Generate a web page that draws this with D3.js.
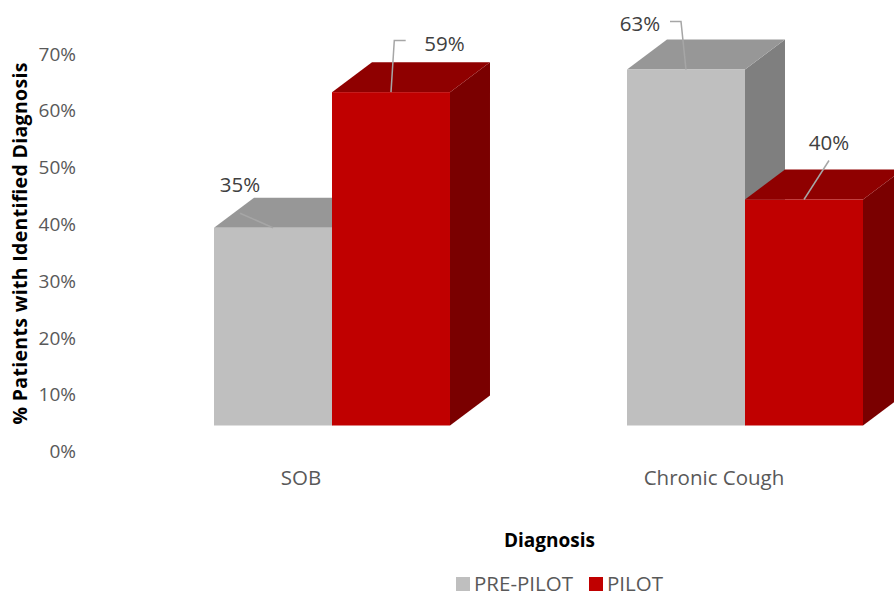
<!DOCTYPE html>
<html>
<head>
<meta charset="utf-8">
<script src="https://cdn.jsdelivr.net/npm/d3@7"></script>
<style>
  html, body { margin: 0; padding: 0; background: #fff; }
  svg { display: block; font-family: "Open Sans", sans-serif; }
</style>
</head>
<body>
<svg id="chart" width="894" height="592"></svg>
<script>
// Chart data
const categories = ["SOB", "Chronic Cough"];
const seriesNames = ["PRE-PILOT", "PILOT"];
const prePilot = [0.35, 0.63];
const pilot = [0.59, 0.40];
const yTicks = [0, 0.1, 0.2, 0.3, 0.4, 0.5, 0.6, 0.7];

const seriesValues = [prePilot, pilot];

// Face shading for each series: front, top, side
const palette = {
  "PRE-PILOT": { front: "#bfbfbf", top: "#979797", side: "#7f7f7f" },
  "PILOT":     { front: "#c00000", top: "#8f0000", side: "#7a0000" }
};

// Depth of the 3D extrusion (towards upper right)
const depth = { dx: 40, dy: -30 };

// Hand-placed data label offsets from the top-centre of each bar's front face
// [series][category] -> text position and leader-line points
const labelLayout = [
  [ { tx: -33, ty: -43.5, pts: [[-33, -14.5]] },
    { tx: -46, ty: -46,   pts: [[-5, -48], [-16, -48]] } ],
  [ { tx: 53.5, ty: -49,  pts: [[3.3, -51.7], [14.7, -51.7]] },
    { tx: 25, ty: -57,    pts: [[25, -39]] } ]
];

const svg = d3.select("#chart");

// Scales
const x = d3.scaleBand().domain(categories).range([214, 863]).paddingInner(0.4286).paddingOuter(0);
const xSeries = d3.scaleBand().domain(seriesNames).range([0, x.bandwidth()]).padding(0);
// front plane of the bars
const yFront = d3.scaleLinear().domain([0, 0.7]).range([425.5, 30]);
// value axis drawn on the back wall
const yAxisScale = d3.scaleLinear().domain([0, 0.7]).range([451.7, 54]);

// Y axis
const yAxis = d3.axisLeft(yAxisScale)
  .tickValues(yTicks)
  .tickSize(0)
  .tickPadding(4)
  .tickFormat(d3.format(".0%"));
const yg = svg.append("g").attr("transform", "translate(80,0)").call(yAxis);
yg.select(".domain").remove();
yg.selectAll("text")
  .attr("font-family", "Open Sans, sans-serif")
  .attr("font-size", 19)
  .attr("fill", "#595959");

// Bars: draw left to right so nearer faces cover the hidden ones
const bars = [];
categories.forEach((c, ci) => {
  seriesNames.forEach((s, si) => {
    bars.push({ cat: c, ci, series: s, si, value: seriesValues[si][ci] });
  });
});

const barG = svg.append("g");
bars.forEach(b => {
  const x0 = x(b.cat) + xSeries(b.series);
  const x1 = x0 + xSeries.bandwidth();
  const yT = yFront(b.value);
  const yB = yFront(0);
  const col = palette[b.series];
  const g = barG.append("g");
  // side face
  g.append("polygon")
    .attr("points", [[x1, yT], [x1 + depth.dx, yT + depth.dy], [x1 + depth.dx, yB + depth.dy], [x1, yB]].join(" "))
    .attr("fill", col.side);
  // top face
  g.append("polygon")
    .attr("points", [[x0, yT], [x0 + depth.dx, yT + depth.dy], [x1 + depth.dx, yT + depth.dy], [x1, yT]].join(" "))
    .attr("fill", col.top);
  // front face
  g.append("rect")
    .attr("x", x0).attr("y", yT)
    .attr("width", x1 - x0).attr("height", yB - yT)
    .attr("fill", col.front);
  b.anchor = [(x0 + x1) / 2, yT];
});

// Data labels with leader lines
const labelG = svg.append("g");
bars.forEach(b => {
  const lay = labelLayout[b.si][b.ci];
  const [ax, ay] = b.anchor;
  const pts = [[ax, ay]].concat(lay.pts.map(p => [ax + p[0], ay + p[1]]));
  labelG.append("path")
    .attr("d", d3.line()(pts))
    .attr("fill", "none")
    .attr("stroke", "#a6a6a6")
    .attr("stroke-width", 1.5);
  labelG.append("text")
    .attr("x", ax + lay.tx)
    .attr("y", ay + lay.ty)
    .attr("dy", "0.36em")
    .attr("text-anchor", "middle")
    .attr("font-size", 20.5)
    .attr("fill", "#404040")
    .text(d3.format(".0%")(b.value));
});

// Category labels (sit under the floor, shifted by perspective)
const catShift = -31;
svg.append("g").selectAll("text")
  .data(categories)
  .join("text")
  .attr("x", d => x(d) + x.bandwidth() / 2 + catShift)
  .attr("y", 478)
  .attr("dy", "0.36em")
  .attr("text-anchor", "middle")
  .attr("font-size", 20.5)
  .attr("fill", "#595959")
  .text(d => d);

// Axis titles
svg.append("text")
  .attr("transform", "translate(20,243.5) rotate(-90)")
  .attr("dy", "0.36em")
  .attr("text-anchor", "middle")
  .attr("font-size", 19.5)
  .attr("font-weight", "bold")
  .attr("fill", "#000")
  .attr("textLength", 362)
  .attr("lengthAdjust", "spacing")
  .text("% Patients with Identified Diagnosis");

svg.append("text")
  .attr("x", 549.5)
  .attr("y", 540)
  .attr("dy", "0.36em")
  .attr("text-anchor", "middle")
  .attr("font-size", 19)
  .attr("font-weight", "bold")
  .attr("fill", "#000")
  .text("Diagnosis");

// Legend
const legendItems = [
  { name: seriesNames[0], x: 456 },
  { name: seriesNames[1], x: 589 }
];
const lg = svg.append("g");
legendItems.forEach(it => {
  lg.append("rect")
    .attr("x", it.x).attr("y", 577)
    .attr("width", 14).attr("height", 14)
    .attr("fill", palette[it.name].front);
  lg.append("text")
    .attr("x", it.x + 18)
    .attr("y", 583.5)
    .attr("dy", "0.36em")
    .attr("font-size", 20.5)
    .attr("fill", "#595959")
    .text(it.name);
});
</script>
</body>
</html>
